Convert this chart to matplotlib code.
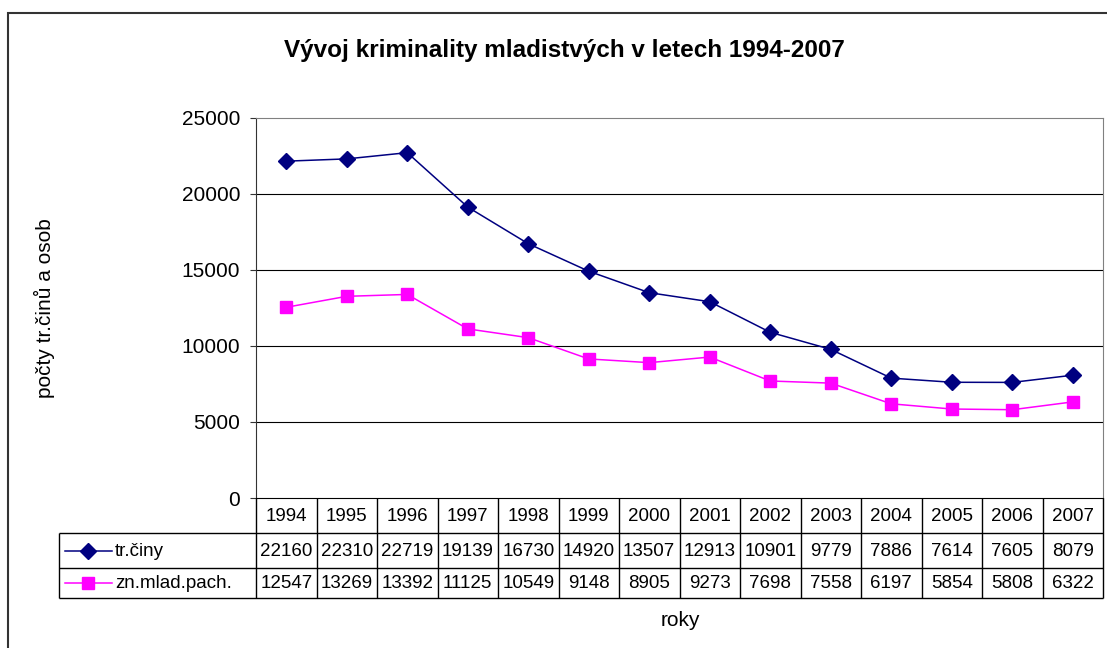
import matplotlib.pyplot as plt
import numpy as np
from matplotlib.lines import Line2D
from matplotlib.patches import Rectangle

# data
roky = ['1994', '1995', '1996', '1997', '1998', '1999', '2000',
        '2001', '2002', '2003', '2004', '2005', '2006', '2007']
tr_ciny = [22160, 22310, 22719, 19139, 16730, 14920, 13507,
           12913, 10901, 9779, 7886, 7614, 7605, 8079]
zn_pach = [12547, 13269, 13392, 11125, 10549, 9148, 8905,
           9273, 7698, 7558, 6197, 5854, 5808, 6322]
serie_nazvy = ['tr.činy', 'zn.mlad.pach.']
y_ticks = [0, 5000, 10000, 15000, 20000, 25000]

plt.rcParams['font.family'] = ['Liberation Sans', 'DejaVu Sans']

W, H = 1107, 648
fig = plt.figure(figsize=(W / 100, H / 100), dpi=100)

def px(x, y):
    # pixelove souradnice (odshora) -> souradnice obrazku
    return x / W, 1 - y / H

def cara(x0, y0, x1, y1, color='black', lw=1.0):
    a, b = px(x0, y0)
    c, d = px(x1, y1)
    fig.add_artist(Line2D([a, c], [b, d], transform=fig.transFigure,
                          color=color, lw=lw, solid_capstyle='butt'))

# vnejsi ramecek
x0, y0 = px(8, 13)
fig.add_artist(Rectangle((x0, -0.05), 1.1, y0 + 0.05, transform=fig.transFigure,
                         fill=False, edgecolor='#333333', lw=1.5))

# oblast grafu
L, R, T, B = 256, 1103, 118, 498
ax = fig.add_axes([L / W, 1 - B / H, (R - L) / W, (B - T) / H])
x = np.arange(len(roky))
ax.plot(x, tr_ciny, color='#000080', marker='D', ms=7.8, lw=1.1, zorder=3)
ax.plot(x, zn_pach, color='#FF00FF', marker='s', ms=8.6, lw=1.1, zorder=3)
ax.set_xlim(-0.5, len(roky) - 0.5)
ax.set_ylim(0, 25000)
ax.set_yticks(y_ticks)
ax.set_yticklabels([str(v) for v in y_ticks], fontsize=15)
ax.set_xticks([])
for v in y_ticks[1:-1]:
    ax.axhline(v, color='black', lw=0.8, zorder=1)
ax.spines['top'].set_color('#808080')
ax.spines['right'].set_color('#808080')
ax.spines['left'].set_color('#333333')
ax.spines['bottom'].set_color('black')
ax.tick_params(axis='y', direction='out', length=4.5, color='#333333', pad=7)

# tabulka dat
cw = (R - L) / len(roky)
rows = [498, 533, 568, 598]
lx = 59
for y in rows[1:]:
    cara(lx, y, R, y)
for i in range(len(roky) + 1):
    cara(L + i * cw, rows[0], L + i * cw, rows[-1])
cara(lx, rows[1], lx, rows[-1])

fs_tab = 13.5
for i, r in enumerate(roky):
    cx, cy = px(L + (i + 0.5) * cw, (rows[0] + rows[1]) / 2 + 1)
    fig.text(cx, cy, r, ha='center', va='center', fontsize=fs_tab)
for j, (serie, barva, mk, ms) in enumerate([(tr_ciny, '#000080', 'D', 7.8),
                                             (zn_pach, '#FF00FF', 's', 8.6)]):
    ymid = (rows[j + 1] + rows[j + 2]) / 2
    for i, v in enumerate(serie):
        cx, cy = px(L + (i + 0.5) * cw, ymid + 1)
        fig.text(cx, cy, str(v), ha='center', va='center', fontsize=fs_tab)
    a, b = px(65, ymid)
    c, _ = px(112, ymid)
    m, _ = px(88, ymid)
    fig.add_artist(Line2D([a, c], [b, b], transform=fig.transFigure, color=barva, lw=1.1))
    fig.add_artist(Line2D([m], [b], transform=fig.transFigure, color=barva,
                          marker=mk, ms=ms, lw=0))
    tx, ty = px(115, ymid + 1)
    fig.text(tx, ty, serie_nazvy[j], ha='left', va='center', fontsize=fs_tab)

# popisky
tx, ty = px(564, 50)
fig.text(tx, ty, 'Vývoj kriminality mladistvých v letech 1994-2007',
         ha='center', va='center', fontsize=17.5, fontweight='bold')
tx, ty = px(680, 620)
fig.text(tx, ty, 'roky', ha='center', va='center', fontsize=15)
tx, ty = px(44, 308)
fig.text(tx, ty, 'počty tr.činů a osob', ha='center', va='center',
         fontsize=15, rotation=90)

fig.savefig('out.png', dpi=100)
